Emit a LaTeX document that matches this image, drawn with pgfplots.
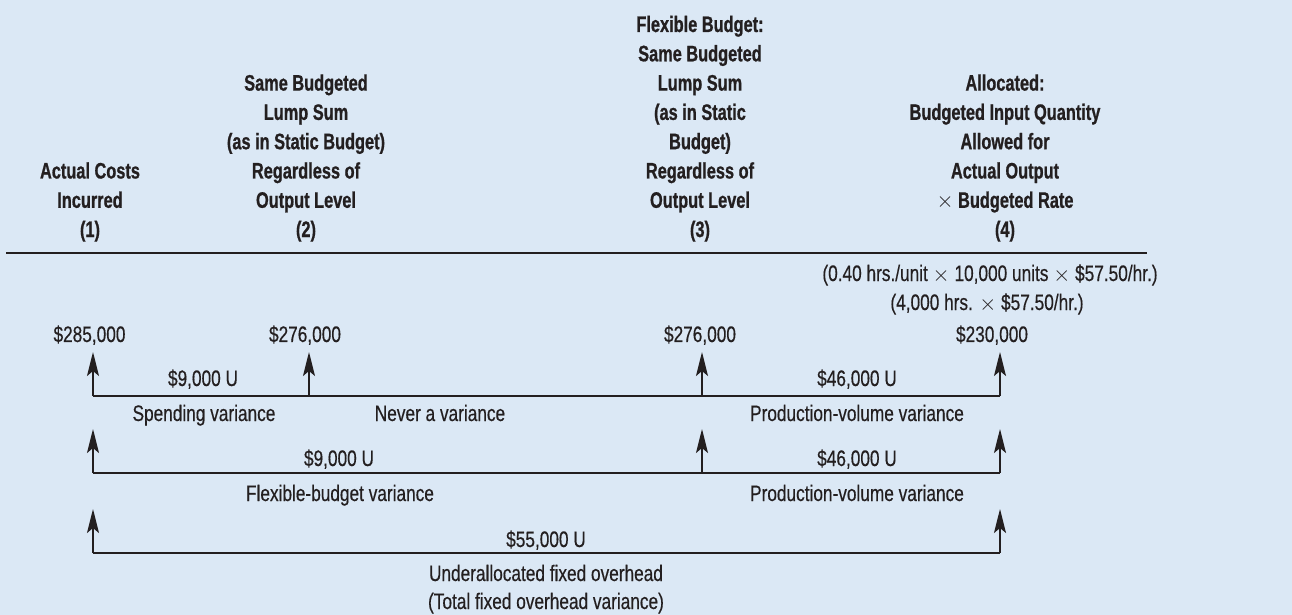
\documentclass[border=0pt]{standalone}
\usepackage{pgfplots}
\pgfplotsset{compat=1.18}
\usetikzlibrary{arrows.meta}
\usepackage{fontspec}
\setmainfont{Liberation Sans}[FakeStretch=0.77,FakeBold=0.4,BoldFeatures={FakeStretch=0.73,FakeBold=0.8}]
\definecolor{bg}{RGB}{219,232,245}
\definecolor{ink}{RGB}{35,31,32}
\begin{document}
\begin{tikzpicture}[every node/.append style={font=\fontsize{11.2}{13}\selectfont,text=ink,inner sep=0pt,anchor=base}]
\begin{axis}[width=646pt,height=307.5pt,scale only axis,hide axis,clip=false,
  xmin=0,xmax=1292,ymin=0,ymax=615,y dir=reverse]
\fill[bg] (axis cs:0,0) rectangle (axis cs:1292,615);
% header rule
\addplot[ink,line width=1.3pt] coordinates {(6,253) (1147,253)};
% rows
\addplot[ink,line width=1pt] coordinates {(93,396) (1000,396)};
\addplot[ink,line width=1pt] coordinates {(93,473) (1000,473)};
\addplot[ink,line width=1pt] coordinates {(93,553) (1000,553)};
\pgfplotsset{arr/.style={ink,line width=1pt,-{Stealth[length=12pt,width=6pt,inset=2.5pt]}}}
% row 1 arrows
\addplot[arr] coordinates {(93,396) (93,352)};
\addplot[arr] coordinates {(309,396) (309,352)};
\addplot[arr] coordinates {(702,396) (702,352)};
\addplot[arr] coordinates {(1000,396) (1000,352)};
% row 2 arrows
\addplot[arr] coordinates {(93,473) (93,429)};
\addplot[arr] coordinates {(702,473) (702,429)};
\addplot[arr] coordinates {(1000,473) (1000,429)};
% row 3 arrows
\addplot[arr] coordinates {(93,553) (93,509)};
\addplot[arr] coordinates {(1000,553) (1000,509)};
% headers
\begin{scope}[every node/.append style={font=\fontsize{11.2}{13}\selectfont\bfseries}]
\node at (axis cs:90,178.5) {Actual Costs};
\node at (axis cs:90,207.8) {Incurred};
\node at (axis cs:90,237) {(1)};
\node at (axis cs:306,90.6) {Same Budgeted};
\node at (axis cs:306,119.9) {Lump Sum};
\node at (axis cs:306,149.2) {(as in Static Budget)};
\node at (axis cs:306,178.5) {Regardless of};
\node at (axis cs:306,207.8) {Output Level};
\node at (axis cs:306,237) {(2)};
\node at (axis cs:700,32) {Flexible Budget:};
\node at (axis cs:700,61.3) {Same Budgeted};
\node at (axis cs:700,90.6) {Lump Sum};
\node at (axis cs:700,119.9) {(as in Static};
\node at (axis cs:700,149.2) {Budget)};
\node at (axis cs:700,178.5) {Regardless of};
\node at (axis cs:700,207.8) {Output Level};
\node at (axis cs:700,237) {(3)};
\node at (axis cs:1005,90.6) {Allocated:};
\node at (axis cs:1005,119.9) {Budgeted Input Quantity};
\node at (axis cs:1005,149.2) {Allowed for};
\node at (axis cs:1005,178.5) {Actual Output};
\node at (axis cs:1005,207.8) {$\times$ Budgeted Rate};
\node at (axis cs:1005,237) {(4)};
\end{scope}
% body texts
\node at (axis cs:990,281) {(0.40 hrs./unit $\times$ 10,000 units $\times$ \$57.50/hr.)};
\node at (axis cs:987,310) {(4,000 hrs. $\times$ \$57.50/hr.)};
\node at (axis cs:89.5,342) {\$285,000};
\node at (axis cs:305,342) {\$276,000};
\node at (axis cs:700,342) {\$276,000};
\node at (axis cs:992,342) {\$230,000};
\node at (axis cs:203,386) {\$9,000 U};
\node at (axis cs:857,386) {\$46,000 U};
\node at (axis cs:204,421) {Spending variance};
\node at (axis cs:440,421) {Never a variance};
\node at (axis cs:857,421) {Production-volume variance};
\node at (axis cs:339,466) {\$9,000 U};
\node at (axis cs:857,466) {\$46,000 U};
\node at (axis cs:340,501) {Flexible-budget variance};
\node at (axis cs:857,501) {Production-volume variance};
\node at (axis cs:546,547) {\$55,000 U};
\node at (axis cs:546,581) {Underallocated fixed overhead};
\node at (axis cs:546,609) {(Total fixed overhead variance)};
\end{axis}
\end{tikzpicture}
\end{document}
